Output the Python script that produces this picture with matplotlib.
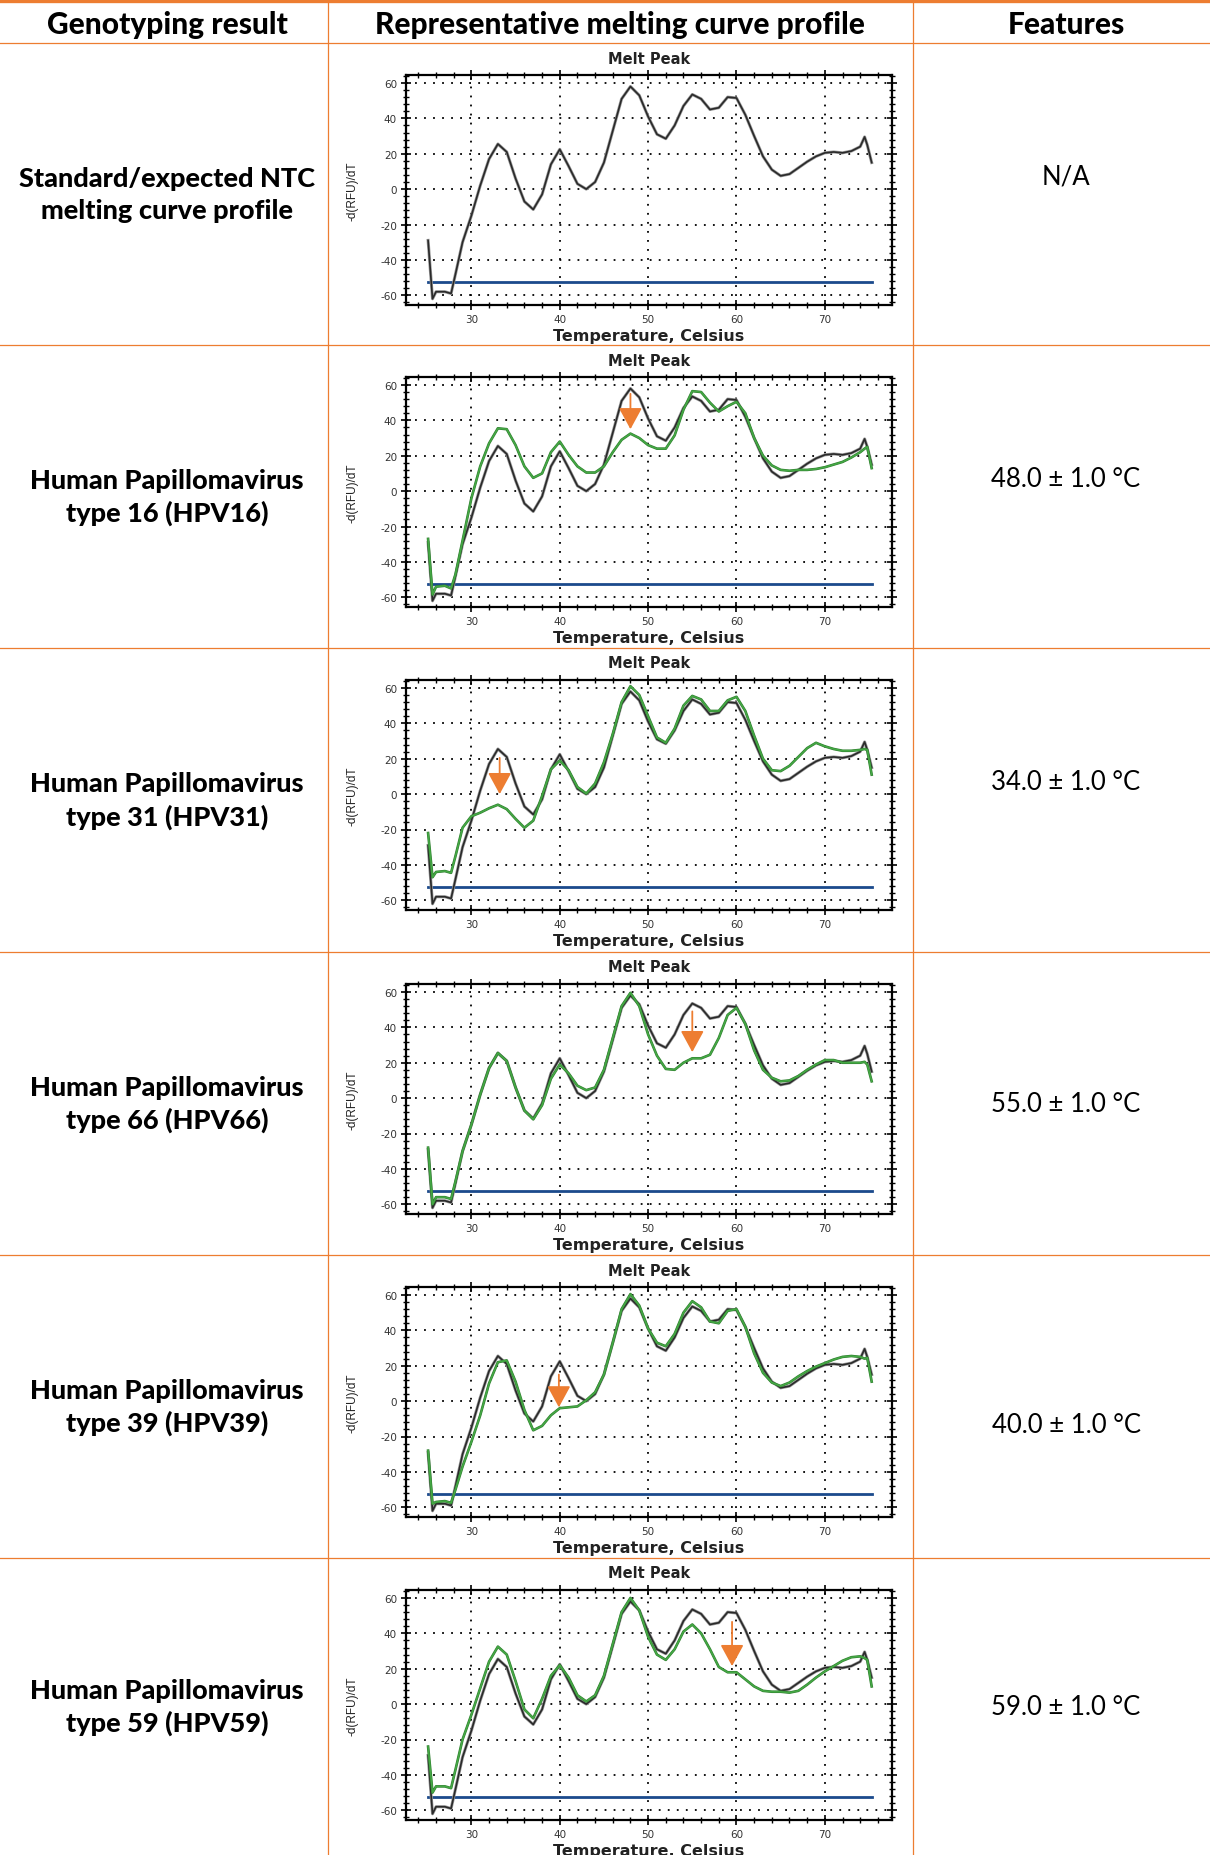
import numpy as np
import matplotlib
matplotlib.use("Agg")
import matplotlib.pyplot as plt
import matplotlib.patheffects as pe
from matplotlib.ticker import MultipleLocator

plt.rcParams["axes.unicode_minus"] = False

# Temperature grid (deg C) shared by every melt-peak trace
temps = [25.1, 25.6, 26.0, 27.0, 27.7, 28.2, 29, 30, 31, 32, 33, 34, 35, 36, 37, 38,
         39, 40, 41, 42, 43, 44, 45, 46, 47, 48, 49, 50, 51, 52, 53, 54, 55, 56, 57,
         58, 59, 60, 61, 62, 63, 64, 65, 66, 67, 68, 69, 70, 71, 72, 73, 74, 74.5,
         74.8, 75.3]

# -d(RFU)/dT, no-template control
ntc = [-29, -62, -58, -58, -59, -48, -30, -15, 2, 17, 25.5, 21, 6, -7, -11.5, -3,
       14, 22.5, 13, 3, 0, 4, 15, 33, 51, 58, 53, 41, 31, 28.5, 36, 47, 53.5, 51, 45,
       46, 52, 51.5, 42, 30, 18.5, 11, 7.5, 8.5, 12, 15.5, 18.5, 20.5, 21, 20.5, 21.5,
       24, 29.5, 25, 15]

hpv16 = [-27, -58.5, -54, -53.5, -55, -47, -28, -4, 14, 27, 35.5, 35, 26, 14, 7.5, 10,
         22, 28, 20.5, 14, 10.5, 10.5, 14, 22, 29, 32.5, 30, 26, 24, 24, 31.5, 46, 56.5,
         56, 50, 45, 48, 50.5, 44, 30, 20, 14.5, 12, 11.5, 12, 12, 12.5, 13.5, 15, 16.5,
         19, 22, 24, 25, 13]

hpv31 = [-22, -47, -44, -43.5, -44.5, -35, -19, -12.5, -10.5, -8, -6, -8.5, -14, -19,
         -15, -1, 14, 19, 13.5, 4, 0.3, 6, 18, 34, 52, 61, 56, 44, 32, 29, 37, 50, 55.5,
         53.5, 47, 47, 53, 55, 47, 33, 20, 13.5, 13, 16, 21, 26, 29, 27, 25.5, 24.5,
         24.5, 25, 25.5, 25, 11]

hpv66 = [-28, -60, -56, -56, -57, -47, -30, -15, 2, 17, 25.5, 21, 6, -7, -12, -4, 11,
         19, 14, 7, 4.5, 6, 16, 34, 52, 59.5, 52, 36, 24, 16.5, 16, 20, 22.5, 22.5, 24.5,
         34, 47, 51, 42, 27, 16, 11.5, 9.5, 10, 12.5, 16, 19, 21.5, 21.5, 20, 20, 20,
         20.5, 19, 9.5]

hpv39 = [-28, -58, -57, -56.5, -57.5, -50, -37, -23, -8, 10, 22, 23, 11, -5, -16.5,
         -14, -8, -4, -3.5, -3, 0.5, 5, 15, 33, 52, 60.5, 54, 41, 33, 31, 38, 50, 56.5,
         53, 45, 44, 51, 52, 42, 27, 16, 10.5, 8.5, 10.5, 14, 17, 19.5, 21.5, 23.5, 25,
         25.5, 25, 24, 24.5, 11]

hpv59 = [-24, -50, -46.5, -46.5, -47.5, -37, -20, -6, 9, 24, 32.5, 28, 13, -3, -8, 3,
         16, 22, 15, 5, 1.5, 5, 16, 34, 52, 60, 53, 38, 28, 25, 31, 41, 45, 40, 31, 21,
         18, 18, 14, 10, 7.5, 7, 7, 6.5, 7.5, 11, 15, 18.5, 21.5, 24.5, 26.5, 27, 26,
         25, 10]

threshold = -52.5

row_labels = ["Standard/expected NTC\nmelting curve profile",
              "Human Papillomavirus\ntype 16 (HPV16)",
              "Human Papillomavirus\ntype 31 (HPV31)",
              "Human Papillomavirus\ntype 66 (HPV66)",
              "Human Papillomavirus\ntype 39 (HPV39)",
              "Human Papillomavirus\ntype 59 (HPV59)"]
features = ["N/A", "48.0 ± 1.0 °C", "34.0 ± 1.0 °C", "55.0 ± 1.0 °C",
            "40.0 ± 1.0 °C", "59.0 ± 1.0 °C"]
headers = ["Genotyping result", "Representative melting curve profile", "Features"]

samples = [None, hpv16, hpv31, hpv66, hpv39, hpv59]
# orange arrows: temperature, start and tip of each arrow
arrow_x = [None, 48.0, 33.2, 55.0, 39.9, 59.5]
arrow_from = [None, 55, 20.5, 49, 15, 46.5]
arrow_to = [None, 35, 0, 26, -3.5, 21.5]

W, H = 1210, 1856
orange = "#ED7D31"
row_tops = [44, 346, 649, 953, 1256, 1559]
col_x = [328, 913]
# vertical shift of the features text within each row (px)
feat_dy = [-18, -18, -18, 0, 18, 0]

fig = plt.figure(figsize=(W / 100, H / 100), dpi=100)

# table grid drawn in pixel coordinates
bg = fig.add_axes([0, 0, 1, 1])
bg.set_xlim(0, W)
bg.set_ylim(H, 0)
bg.axis("off")
bg.plot([0, W], [1.5, 1.5], color=orange, lw=2.4)
for y in row_tops:
    bg.plot([0, W], [y, y], color=orange, lw=0.9)
for x in col_x:
    bg.plot([x, x], [2, H], color=orange, lw=0.9)

head_cx = [167, 620, 1066]
for cx, txt in zip(head_cx, headers):
    bg.text(cx, 25, txt, ha="center", va="center", fontsize=21.5,
            fontweight="black", family="Lato")

bottoms = row_tops[1:] + [H]
for i, (top, bot) in enumerate(zip(row_tops, bottoms)):
    cy = (top + bot) / 2
    bg.text(167, cy, row_labels[i], ha="center", va="center", fontsize=19.5,
            fontweight="black", family="Lato", linespacing=1.4)
    bg.text(1066, cy + feat_dy[i], features[i], ha="center", va="center",
            fontsize=18.5, family="Lato")

plot_font = "DejaVu Sans"
for i, top in enumerate(row_tops):
    ax_top, ax_bot = top + 32, top + 262
    ax = fig.add_axes([406 / W, 1 - ax_bot / H, 486 / W, (ax_bot - ax_top) / H])
    ax.set_xlim(22.6, 77.6)
    ax.set_ylim(-65.5, 64.5)
    ax.xaxis.set_major_locator(MultipleLocator(10))
    ax.xaxis.set_minor_locator(MultipleLocator(2))
    ax.yaxis.set_major_locator(MultipleLocator(20))
    ax.yaxis.set_minor_locator(MultipleLocator(4))
    ax.set_xticks([30, 40, 50, 60, 70])
    ax.grid(True, which="major", color="black", linestyle=(0, (1, 4)), lw=1.3)
    ax.tick_params(which="both", direction="inout", top=True, right=True,
                   labelsize=7.5, labelcolor="#333333", pad=3)
    ax.tick_params(which="major", length=7, width=1.2)
    ax.tick_params(which="minor", length=4, width=1.0)
    for lab in ax.get_xticklabels() + ax.get_yticklabels():
        lab.set_family(plot_font)
    for sp in ax.spines.values():
        sp.set_linewidth(1.6)

    ax.plot([temps[0], temps[-1]], [threshold, threshold], color="#1B4A8C", lw=2.0)
    ax.plot(temps, ntc, color="#2a2a2a", lw=1.2, solid_joinstyle="round",
            path_effects=[pe.Stroke(linewidth=2.2, foreground="#9a9a9a"), pe.Normal()])
    if samples[i] is not None:
        ax.plot(temps, samples[i], color="#45a845", lw=1.1, solid_joinstyle="round",
                path_effects=[pe.Stroke(linewidth=1.9, foreground="#2f7f2f"), pe.Normal()])
        ax.annotate("", xy=(arrow_x[i], arrow_to[i]), xytext=(arrow_x[i], arrow_from[i]),
                    arrowprops=dict(arrowstyle="-|>,head_length=0.55,head_width=0.3",
                                    color=orange, lw=1.3, mutation_scale=24,
                                    shrinkA=0, shrinkB=0))

    h = ax_bot - ax_top
    ax.text(0.5, 1 + 17 / h, "Melt Peak", transform=ax.transAxes, ha="center",
            va="center", fontsize=10.5, fontweight="bold", family=plot_font, color="#222222")
    ax.text(0.5, -31 / h, "Temperature, Celsius", transform=ax.transAxes, ha="center",
            va="center", fontsize=11.5, fontweight="bold", family=plot_font, color="#222222")
    ax.text(-54 / 486, 0.5, "-d(RFU)/dT", transform=ax.transAxes, ha="center",
            va="center", rotation=90, fontsize=8.5, family="Liberation Sans", color="#222222")

fig.savefig("out.png", dpi=100)
